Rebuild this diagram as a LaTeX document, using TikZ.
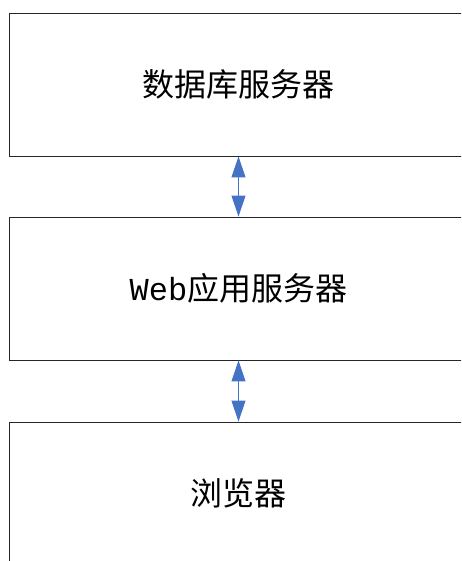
\documentclass[tikz,border=0pt]{standalone}
\usepackage{fontspec}
\setmainfont{Liberation Mono}
\newfontfamily\cjk{Noto Sans CJK SC}
\usetikzlibrary{arrows.meta}
\definecolor{arrblue}{HTML}{4472C4}
\tikzset{
  box/.style={draw=black!85, line width=0.9pt, minimum width=459pt, minimum height=143pt, inner sep=0pt, font=\fontsize{32pt}{36pt}\selectfont},
  arr/.style={arrblue, line width=1pt, {Triangle[width=14pt,length=21pt]}-{Triangle[width=14pt,length=21pt]}}
}
\begin{document}
\begin{tikzpicture}[x=1pt,y=-1pt]
\useasboundingbox (0,0) rectangle (461,561);
\clip (0,0) rectangle (461,561);
\node[box] (db) at (238.5,84.5) {\cjk 数据库服务器};
\node[box] (web) at (238.5,288.5) {Web{\cjk 应用服务器}};
\node[box] (br) at (238.5,493.5) {\cjk 浏览器};
\draw[arr] (db.south) -- (web.north);
\draw[arr] (web.south) -- (br.north);
\end{tikzpicture}
\end{document}
